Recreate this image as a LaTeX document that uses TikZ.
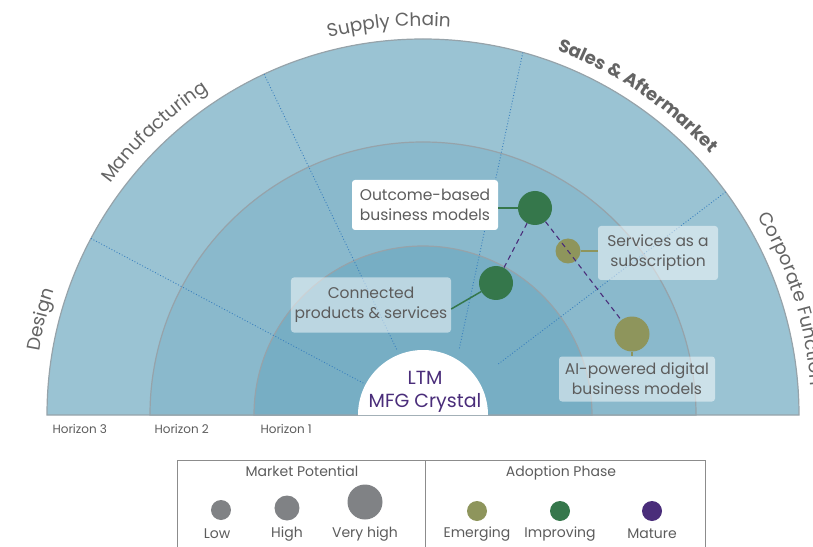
\documentclass[tikz,border=0pt]{standalone}
\usepackage{fontspec}
\setmainfont{Poppins}
\setsansfont{Poppins}
\usetikzlibrary{positioning,calc,decorations.text}
\definecolor{ringouter}{RGB}{154,195,211}
\definecolor{ringmid}{RGB}{138,185,204}
\definecolor{ringinner}{RGB}{119,174,196}
\definecolor{ringline}{RGB}{150,163,170}
\definecolor{sectorblue}{RGB}{58,128,190}
\definecolor{improvegreen}{RGB}{53,119,75}
\definecolor{emergeolive}{RGB}{142,149,92}
\definecolor{maturepurple}{RGB}{74,45,122}
\definecolor{textgray}{RGB}{92,92,92}
\definecolor{sectorgray}{RGB}{100,100,100}
\definecolor{legendgray}{RGB}{128,130,133}
\definecolor{boxgray}{RGB}{140,140,140}

\begin{document}
\begin{tikzpicture}[x=1pt, y=1pt,
    ring/.style={draw=ringline, line width=1.2pt},
    sector/.style={sectorblue, dotted, line width=0.9pt},
    bubble/.style={circle, inner sep=0pt, minimum size=#1},
    tag/.style={rounded corners=3pt, align=center, text=textgray, inner sep=0pt,
                font=\fontsize{15.5}{20}\selectfont},
    solidtag/.style={tag, fill=white},
    glasstag/.style={tag, fill=white, fill opacity=0.5, text opacity=1},
    link/.style={line width=1.5pt},
    trend/.style={maturepurple, dash pattern=on 5pt off 4pt, line width=1.1pt},
    sectorlabel/.style={decorate, decoration={text along path, text align=center, text color=sectorgray}},
    horizon/.style={anchor=west, text=textgray, font=\fontsize{12}{14}\selectfont},
    legendtitle/.style={text=textgray, font=\fontsize{14}{16}\selectfont},
    legendtext/.style={text=textgray, font=\fontsize{14}{16}\selectfont}
]
\useasboundingbox (-423,-131) rectangle (390,415);

% rings of the fan
\path[ring, fill=ringouter] (376,0) arc (0:180:376) -- cycle;
\path[ring, fill=ringmid] (273,0) arc (0:180:273) -- cycle;
\path[ring, fill=ringinner] (169,0) arc (0:180:169) -- cycle;

% sector borders
\draw[sector] (152:376) -- (-58,31);
\draw[sector] (115:376) -- (-26,65);
\draw[sector] (74.6:376) -- (36,65);
\draw[sector] (36.4:376) -- (74,50);

% centre
\fill[white] (65,0) arc (0:180:65) -- cycle;
\node[text=maturepurple, align=center, font=\fontsize{19}{23}\selectfont] (crystal) at (2,23) {LTM\\MFG Crystal};

% sector names
\path[sectorlabel, decoration={text={|\fontsize{18.5}{20}\selectfont|Design}}] (200:389) arc (200:132:389);
\path[sectorlabel, decoration={text={|\fontsize{18.5}{20}\selectfont|Manufacturing}}] (168:389) arc (168:99:389);
\path[sectorlabel, decoration={text={|\fontsize{18.5}{20}\selectfont|Supply Chain}}] (130:389) arc (130:60:389);
\path[sectorlabel, decoration={text={|\bfseries\fontsize{18}{20}\selectfont|Sales {\&} Aftermarket}}] (92:388) arc (92:20:388);
\path[sectorlabel, decoration={text={|\fontsize{18.5}{20}\selectfont|Corporate Function}}] (54:389) arc (54:-19:389);

% horizons
\node[horizon] (h3) at (-374,-14) {Horizon 3};
\node[horizon] (h2) at (-272,-14) {Horizon 2};
\node[horizon] (h1) at (-166,-14) {Horizon 1};

% use cases
\node[solidtag, minimum width=146, minimum height=50] (outcome-tag) at (2,210) {Outcome-based\\business models};
\node[glasstag, minimum width=120, minimum height=54] (subscription-tag) at (235,162) {Services as a\\subscription};
\node[glasstag, minimum width=160, minimum height=55] (connected-tag) at (-52,110) {Connected\\products \& services};
\node[glasstag, minimum width=156, minimum height=45] (ai-tag) at (214,36) {AI-powered digital\\business models};

\node[bubble=34, fill=improvegreen] (outcome) at (112,207) {};
\node[bubble=25, fill=emergeolive] (subscription) at (145,164) {};
\node[bubble=34, fill=improvegreen] (connected) at (73,132) {};
\node[bubble=35, fill=emergeolive] (ai) at (209,81) {};

\draw[link, improvegreen] (outcome.west) -- (outcome.west -| outcome-tag.east);
\draw[link, emergeolive] (subscription.east) -- (subscription.east -| subscription-tag.west);
\draw[link, improvegreen] ([yshift=-4]connected-tag.east) -- (connected);
\draw[link, emergeolive] (ai.south) -- (ai.south |- ai-tag.north);

\draw[trend] (outcome) -- (connected);
\draw[trend] (outcome) -- (ai);

% legend
\draw[boxgray, line width=0.8pt] (-246,-140) |- (282,-45) -- (282,-140);
\draw[boxgray, line width=0.8pt] (2,-45) -- (2,-140);

\node[legendtitle] (potential) at (-121,-56) {Market Potential};
\node[bubble=20, fill=legendgray] (low) at (-202,-95) {};
\node[bubble=25, fill=legendgray] (high) at (-136,-93) {};
\node[bubble=35, fill=legendgray] (veryhigh) at (-58,-87) {};
\node[legendtext] (low-text) at (-206,-119) {Low};
\node[legendtext] (high-text) at (-136,-119) {High};
\node[legendtext] (veryhigh-text) at (-58,-119) {Very high};

\node[legendtitle] (phase) at (138,-58) {Adoption Phase};
\node[bubble=20, fill=emergeolive] (emerging) at (54,-96) {};
\node[bubble=20, fill=improvegreen] (improving) at (137,-96) {};
\node[bubble=20, fill=maturepurple] (mature) at (229,-96) {};
\node[legendtext] (emerging-text) at (54,-119) {Emerging};
\node[legendtext] (improving-text) at (137,-119) {Improving};
\node[legendtext] (mature-text) at (229,-119) {Mature};

\end{tikzpicture}
\end{document}
